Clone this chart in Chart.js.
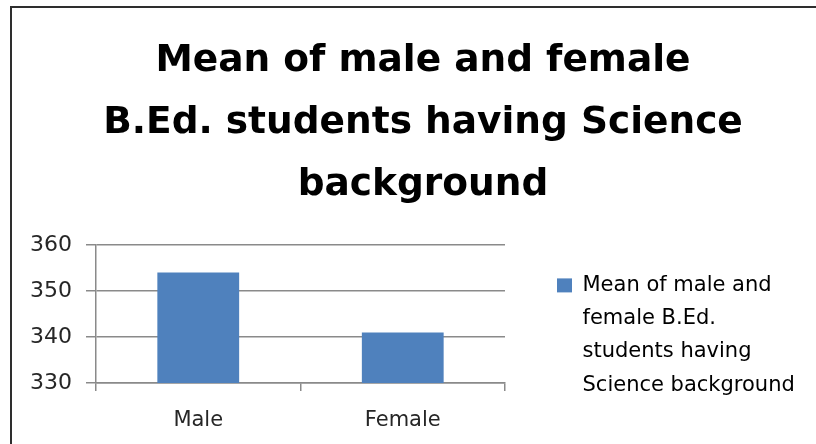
<!DOCTYPE html>
<html>
<head>
<meta charset="utf-8">
<script src="https://cdn.jsdelivr.net/npm/chart.js@4"></script>
<style>
  html, body { margin: 0; padding: 0; background: #ffffff; overflow: hidden; width: 816px; height: 444px; }
  #wrap { position: relative; width: 816px; height: 444px; }
  #frame { position: absolute; left: 10px; top: 6px; width: 2000px; height: 2000px; border: 2px solid #2e2e2e; box-sizing: border-box; }
  canvas { position: absolute; left: 0; top: 0; }
</style>
</head>
<body>
<div id="wrap">
  <div id="frame"></div>
  <canvas id="c" width="816" height="444"></canvas>
</div>
<script>
// ---- data ----
const categories = ['Male', 'Female'];
const meanValues = [354, 341];
const seriesLabel = 'Mean of male and female B.Ed. students having Science background';
const legendLines = ['Mean of male and', 'female B.Ed.', 'students having', 'Science background'];
const titleLines = ['Mean of male and female', 'B.Ed. students having Science', 'background'];
const yMin = 330;
const yMax = 360;
const yStep = 10;

// ---- styling ----
const BAR_COLOR = '#4f81bd';
const GRID_COLOR = '#8a8a8a';
const TEXT_COLOR = '#262626';
const FONT = 'DejaVu Sans';
const LEGEND_PAD = 80;
const LEGEND_DX = -28;
const LEGEND_DY = 125;

const legendShift = {
  id: 'legendShift',
  afterLayout(chart) {
    const l = chart.legend;
    if (!l) return;
    l.left += LEGEND_DX;
    l.top += LEGEND_DY; l.bottom += LEGEND_DY;
  }
};

new Chart(document.getElementById('c'), {
  type: 'bar',
  data: {
    labels: categories,
    datasets: [{
      label: seriesLabel,
      data: meanValues,
      backgroundColor: BAR_COLOR,
      borderWidth: 0,
      barPercentage: 0.4,
      categoryPercentage: 1.0
    }]
  },
  options: {
    responsive: false,
    animation: false,
    devicePixelRatio: 1,
    layout: { padding: { left: 30, right: 0, top: 0, bottom: 11 } },
    plugins: {
      tooltip: { enabled: false },
      title: {
        display: true,
        text: titleLines,
        color: '#000000',
        font: { family: FONT, size: 37.5, weight: 'bold', lineHeight: 62 / 37.5 },
        padding: { top: 30, bottom: 29 }
      },
      legend: {
        display: true,
        position: 'right',
        align: 'center',
        maxWidth: 311,
        labels: {
          color: TEXT_COLOR,
          font: { family: FONT, size: 21, lineHeight: 33.3 / 21 },
          boxWidth: 15,
          boxHeight: 14,
          padding: LEGEND_PAD,
          generateLabels(chart) {
            const ds = chart.data.datasets[0];
            return [{
              text: legendLines,
              fillStyle: ds.backgroundColor,
              strokeStyle: ds.backgroundColor,
              lineWidth: 0,
              hidden: false,
              datasetIndex: 0
            }];
          }
        }
      }
    },
    scales: {
      x: {
        offset: true,
        afterFit(scale) { scale.height = 50; },
        grid: {
          display: true,
          drawOnChartArea: false,
          drawTicks: true,
          tickLength: 8,
          color: GRID_COLOR,
          lineWidth: 1.5,
          offset: true
        },
        border: { display: true, color: GRID_COLOR, width: 1.5 },
        ticks: {
          color: TEXT_COLOR,
          padding: 17,
          font: { family: FONT, size: 21 }
        }
      },
      y: {
        min: yMin,
        max: yMax,
        afterFit(scale) { scale.width = 66; },
        grid: {
          color: GRID_COLOR,
          lineWidth: 1.5,
          drawTicks: true,
          tickLength: 10
        },
        border: { display: true, color: GRID_COLOR, width: 1.5 },
        ticks: {
          stepSize: yStep,
          color: TEXT_COLOR,
          padding: 14,
          font: { family: FONT, size: 22 }
        }
      }
    }
  },
  plugins: [legendShift]
});
</script>
</body>
</html>
